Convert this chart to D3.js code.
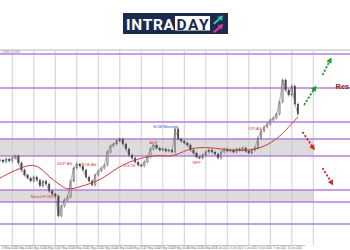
<!DOCTYPE html>
<html><head><meta charset="utf-8">
<script src="https://cdn.jsdelivr.net/npm/d3@7"></script>
<style>html,body{margin:0;padding:0;background:#fff;}svg{display:block;}</style>
</head><body>
<svg id="c" width="350" height="250"></svg>
<script>
// ---- data ----
const closes = [1.0854,1.0852,1.0855,1.0853,1.0856,1.0858,1.0851,1.0844,1.0839,1.0836,
1.0833,1.0837,1.0834,1.0828,1.0833,1.0830,1.0823,1.0820,1.0818,1.0798,
1.0808,1.0814,1.0817,1.0833,1.0846,1.0850,1.0848,1.0844,1.0837,1.0833,
1.0829,1.0839,1.0843,1.0846,1.0849,1.0862,1.0868,1.0870,1.0873,1.0875,
1.0870,1.0865,1.0859,1.0856,1.0852,1.0849,1.0848,1.0852,1.0857,1.0865,
1.0869,1.0866,1.0864,1.0865,1.0863,1.0864,1.0862,1.0885,1.0875,1.0873,
1.0871,1.0869,1.0864,1.0861,1.0857,1.0856,1.0859,1.0862,1.0864,1.0862,
1.0860,1.0856,1.0862,1.0865,1.0863,1.0864,1.0862,1.0865,1.0864,1.0866,
1.0863,1.0861,1.0864,1.0866,1.0876,1.0883,1.0887,1.0890,1.0894,1.0896,
1.0900,1.0912,1.0934,1.0924,1.0919,1.0928,1.0910,1.0900];
const maIdx = [0,5,10,13,16,20,22,26,33,38,42,47,52,55,59,62,68,76,84,90,94,97];
const maVal = [1.0836,1.0844,1.0850,1.0847,1.0837,1.0828,1.0824,1.0827,1.0834,1.0846,1.0852,1.0857,1.0859,1.0857,1.0861,1.0866,1.0867,1.0863,1.0864,1.0874,1.0887,1.0897];
const levels = [1.0960,1.0926,1.0892,1.0875,1.0858,1.0824,1.0812,1.0790];
const bands = [[1.0858,1.0875],[1.0812,1.0824]];
const events = [
 {t:"Mixed FOMC", i:14, p:1.0816, c:"#d23a3a"},
 {t:"GDP AS", i:21, p:1.0849, c:"#d23a3a"},
 {t:"PCE AS", i:29, p:1.0848, c:"#d23a3a"},
 {t:"JOLTS", i:42, p:1.0847, c:"#d23a3a"},
 {t:"ADP", i:50, p:1.0870, c:"#d23a3a"},
 {t:"ECB Meeting", i:54, p:1.0886, c:"#3a56c8"},
 {t:"NFP", i:64, p:1.0850, c:"#d23a3a"},
 {t:"CPI AS", i:83, p:1.0884, c:"#d23a3a"}
];
const timeLabels = ["13 May 2024","14 May 2024","15 May 2024","16 May 2024","17 May 2024","20 May 2024","21 May 2024",
"22 May 2024","23 May 2024","24 May 2024","27 May 2024","28 May 2024","29 May 2024","30 May 2024","31 May 2024",
"3 Jun 2024","4 Jun 2024","5 Jun 2024","6 Jun 2024","7 Jun 2024","10 Jun 2024"];
const arrowsUp = [[99,1.0909,102.5,1.0926],[105,1.0939,107.5,1.0954]];
const arrowsDn = [[98.5,1.0882,102,1.0866],[105,1.0846,108,1.0831]];

// ---- scales ----
const svg = d3.select("#c");
const x = d3.scaleLinear().domain([0,102]).range([0,313.3]);
const y = d3.scaleLinear().domain([1.0769,1.0964]).range([245,50]);

// logo
const logo = svg.append("g");
logo.append("rect").attr("x",123).attr("y",13).attr("width",105).attr("height",21).attr("fill","#1b2b4d");
logo.append("rect").attr("x",175).attr("y",16).attr("width",35).attr("height",14.5).attr("fill","#fff");
logo.append("text").attr("x",126).attr("y",29.5).attr("fill","#fff").attr("font-family","Roboto, Arial, sans-serif").attr("font-weight","bold").attr("font-size",15.5).attr("textLength",48).text("INTRA");
logo.append("text").attr("x",176.5).attr("y",29.5).attr("fill","#1b2b4d").attr("font-family","Roboto, Arial, sans-serif").attr("font-weight","bold").attr("font-size",15.5).attr("textLength",32).text("DAY");
logo.append("path").attr("d","M213,23 L219,18 L217,17 L223,15.5 L222,21 L220.5,19.5 L214.5,24.5 Z").attr("fill","#2fc6a4");
logo.append("path").attr("d","M213,31.5 L219,26.5 L217,25.5 L223,24 L222,29.5 L220.5,28 L214.5,33 Z").attr("fill","#e2379b");

// frame
svg.append("line").attr("x1",0).attr("x2",350).attr("y1",50).attr("y2",50).attr("stroke","#b8b8b8").attr("stroke-width",1);
// bands
svg.selectAll(".band").data(bands).enter().append("rect")
 .attr("x",0).attr("width",x(102)).attr("y",d=>y(d[1])).attr("height",d=>y(d[0])-y(d[1])).attr("fill","#dcdcdc");
// vertical grid
const gridIdx = d3.range(4,103,7);
svg.selectAll(".vg").data(gridIdx).enter().append("line")
 .attr("x1",d=>x(d)).attr("x2",d=>x(d)).attr("y1",50).attr("y2",245).attr("stroke","#c4c4c4").attr("stroke-width",0.8);
// levels
svg.selectAll(".lv").data(levels).enter().append("line")
 .attr("x1",0).attr("x2",350).attr("y1",d=>y(d)).attr("y2",d=>y(d)).attr("stroke","#b47fd8").attr("stroke-width",1.4);
// top price label
svg.append("text").attr("x",1).attr("y",53).attr("font-size",3).attr("fill","#888").attr("font-family","Arial, sans-serif").text(levels[0].toFixed(4)+" 1.0958");

// bottom axis
svg.append("line").attr("x1",0).attr("x2",305).attr("y1",245.5).attr("y2",245.5).attr("stroke","#999").attr("stroke-width",0.6);
svg.selectAll(".tl").data(timeLabels).enter().append("text")
 .attr("x",(d,i)=>1.5+i*14.3).attr("y",249).attr("font-size",2.6).attr("fill","#666").attr("font-family","Arial, sans-serif").text(d=>d);

// candles (open = previous close)
const g = svg.append("g");
closes.forEach((c,i)=>{
  const o = i===0 ? c : closes[i-1];
  const top = y(Math.max(o,c)), bot = y(Math.min(o,c));
  g.append("line").attr("x1",x(i)).attr("x2",x(i)).attr("y1",top-1.5).attr("y2",bot+1.5).attr("stroke","#555").attr("stroke-width",0.6);
  g.append("rect").attr("x",x(i)-0.8).attr("width",1.6).attr("y",top).attr("height",Math.max(0.7,bot-top)).attr("fill",c>=o?"#b0b0b0":"#444").attr("stroke","#444").attr("stroke-width",0.25);
});
g.append("path").datum(closes).attr("fill","none").attr("stroke","#666").attr("stroke-width",0.5)
 .attr("d",d3.line().x((d,i)=>x(i)).y(d=>y(d)));

// moving average
svg.append("path").datum(maIdx.map((d,i)=>[d,maVal[i]])).attr("fill","none").attr("stroke","#cc3b3b").attr("stroke-width",1)
 .attr("d",d3.line().x(d=>x(d[0])).y(d=>y(d[1])).curve(d3.curveBasis));

// events
svg.selectAll(".ev").data(events).enter().append("text")
 .attr("x",d=>x(d.i)).attr("y",d=>y(d.p)).attr("text-anchor","middle").attr("font-size",4.2)
 .attr("font-family","Arial, sans-serif").attr("fill",d=>d.c).text(d=>d.t);

// arrows
const defs = svg.append("defs");
[["ag","#1e9a2e"],["ar","#d42a2a"]].forEach(([id,col])=>{
  defs.append("marker").attr("id",id).attr("viewBox","0 0 10 10").attr("refX",5).attr("refY",5)
   .attr("markerWidth",3.2).attr("markerHeight",3.2).attr("orient","auto")
   .append("path").attr("d","M0,0 L10,5 L0,10 Z").attr("fill",col);
});
svg.selectAll(".au").data(arrowsUp).enter().append("line")
 .attr("x1",d=>x(d[0])).attr("y1",d=>y(d[1])).attr("x2",d=>x(d[2])).attr("y2",d=>y(d[3]))
 .attr("stroke","#1e9a2e").attr("stroke-width",1.8).attr("stroke-dasharray","2.2,1.6").attr("marker-end","url(#ag)");
svg.selectAll(".ad").data(arrowsDn).enter().append("line")
 .attr("x1",d=>x(d[0])).attr("y1",d=>y(d[1])).attr("x2",d=>x(d[2])).attr("y2",d=>y(d[3]))
 .attr("stroke","#d42a2a").attr("stroke-width",1.8).attr("stroke-dasharray","2.2,1.6").attr("marker-end","url(#ar)");

// Resistance label (only "Res" visible in the reference)
svg.append("text").attr("x",335.5).attr("y",88.5).attr("font-size",7.5).attr("font-weight","bold")
 .attr("font-family","Arial, sans-serif").attr("fill","#8e1b1b").text("Res");
</script>
</body></html>
